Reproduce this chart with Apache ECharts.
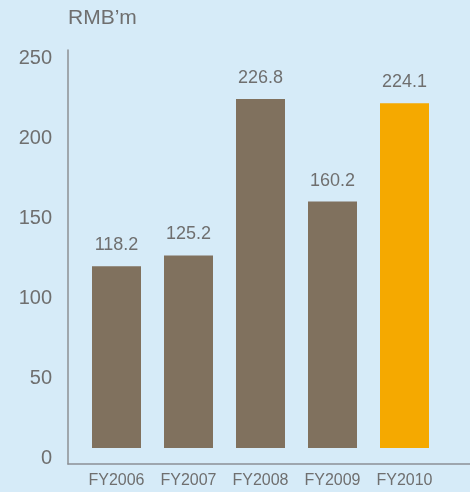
<!DOCTYPE html>
<html>
<head>
<meta charset="utf-8">
<script src="https://cdn.jsdelivr.net/npm/echarts@6/dist/echarts.min.js"></script>
<style>
  html, body { margin: 0; padding: 0; background: #d6ebf8; }
  #chart { width: 470px; height: 492px; }
</style>
</head>
<body>
<div id="chart"></div>
<script>
// 年度数据
var years = ['FY2006', 'FY2007', 'FY2008', 'FY2009', 'FY2010'];
var values = [118.2, 125.2, 226.8, 160.2, 224.1];
var yTicks = [0, 50, 100, 150, 200, 250];

var myChart = echarts.init(document.getElementById('chart'));

var textColor = '#6f6f6f';
var lineColor = '#8c9095';

var barData = values.map(function (v, i) {
  return {
    value: v,
    itemStyle: {
      color: i === values.length - 1 ? '#f5a900' : '#80715e' // 最后一年高亮
    }
  };
});

var option = {
  backgroundColor: '#d6ebf8',
  textStyle: { fontFamily: 'Liberation Sans, Arial, sans-serif' },
  title: {
    text: 'RMB\u2019m',
    left: 63,
    top: 3,
    textStyle: {
      color: textColor,
      fontSize: 21,
      fontWeight: 'normal',
      fontFamily: 'Liberation Sans, Arial, sans-serif'
    }
  },
  grid: [
    // 坐标轴
    { left: 68, right: 0, top: 50, bottom: 28 },
    // 柱子
    { left: 80.5, right: 29.5, top: 48, bottom: 44 }
  ],
  xAxis: [
    {
      gridIndex: 0,
      type: 'category',
      data: years,
      axisLine: { onZero: false, lineStyle: { color: lineColor, width: 1.5 } },
      axisTick: { show: false },
      axisLabel: { show: false }
    },
    {
      gridIndex: 1,
      type: 'category',
      data: years,
      axisLine: { show: false },
      axisTick: { show: false },
      axisLabel: {
        interval: 0,
        hideOverlap: false,
        color: textColor,
        fontSize: 16,
        margin: 25
      }
    }
  ],
  yAxis: [
    {
      gridIndex: 0,
      type: 'value',
      min: -3.75,
      max: 255,
      axisLine: { show: true, onZero: false, lineStyle: { color: lineColor, width: 1.5 } },
      axisTick: { show: false },
      splitLine: { show: false },
      axisLabel: {
        customValues: yTicks,
        color: textColor,
        fontSize: 20,
        margin: 16
      }
    },
    {
      gridIndex: 1,
      type: 'value',
      min: 0,
      max: 260,
      show: false,
      splitLine: { show: false }
    }
  ],
  series: [
    {
      type: 'bar',
      xAxisIndex: 1,
      yAxisIndex: 1,
      barWidth: 49,
      data: barData,
      label: {
        show: true,
        position: 'top',
        distance: 12,
        color: textColor,
        fontSize: 18,
        formatter: function (p) {
          return p.value.toFixed(1);
        }
      }
    }
  ]
};

myChart.setOption(option);
</script>
</body>
</html>
